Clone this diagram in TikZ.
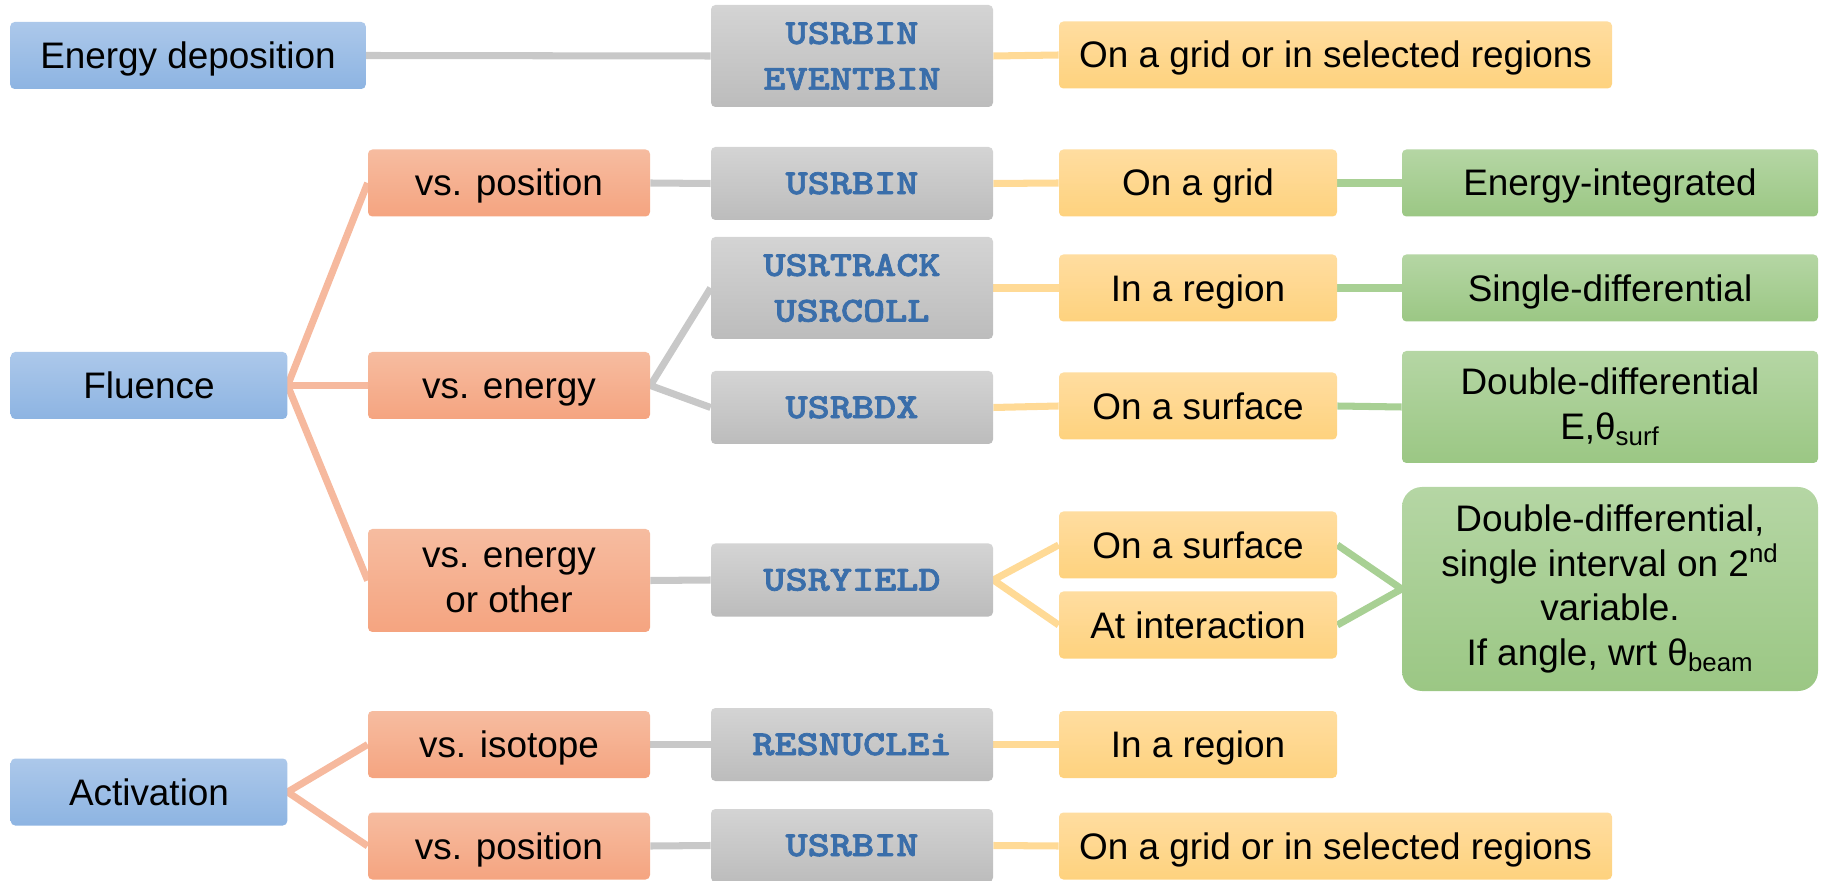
\documentclass[tikz,border=0pt]{standalone}
\usepackage{fontspec}
\setmainfont{Liberation Sans}
\newfontfamily\cardfont{lmmonolt10-bold.otf}[FakeStretch=1.2, FakeBold=2]
\usetikzlibrary{backgrounds}

\definecolor{catTop}{RGB}{172,200,234}
\definecolor{catBot}{RGB}{141,180,226}
\definecolor{vsTop}{RGB}{246,188,160}
\definecolor{vsBot}{RGB}{245,164,128}
\definecolor{cardTop}{RGB}{212,212,212}
\definecolor{cardBot}{RGB}{188,188,188}
\definecolor{cardText}{RGB}{58,110,170}
\definecolor{placeTop}{RGB}{255,221,160}
\definecolor{placeBot}{RGB}{254,210,126}
\definecolor{kindTop}{RGB}{181,214,164}
\definecolor{kindBot}{RGB}{155,199,132}
\definecolor{grayLink}{RGB}{200,200,200}
\definecolor{pinkLink}{RGB}{246,185,158}
\definecolor{yellowLink}{RGB}{255,218,150}
\definecolor{greenLink}{RGB}{168,208,148}

\begin{document}
\begin{tikzpicture}[
		basebox/.style={rounded corners=2.5pt, align=center, inner sep=0pt,
			minimum height=1.34cm, text height=19pt, text depth=4.2pt,
			font=\fontsize{21}{25.5}\selectfont},
		twolines/.style={text height={}, text depth={}},
		catbox/.style={basebox, top color=catTop, bottom color=catBot, minimum width=5.53cm},
		vsbox/.style={basebox, top color=vsTop, bottom color=vsBot, minimum width=5.64cm},
		cardbox/.style={basebox, top color=cardTop, bottom color=cardBot, minimum width=5.64cm,
			minimum height=1.46cm, text=cardText, text height=15.5pt, text depth=3.5pt,
			font=\fontsize{20}{26}\selectfont\cardfont},
		placebox/.style={basebox, top color=placeTop, bottom color=placeBot, minimum width=5.56cm},
		kindbox/.style={basebox, top color=kindTop, bottom color=kindBot, minimum width=8.32cm},
		graylink/.style={draw=grayLink, line width=4pt},
		pinklink/.style={draw=pinkLink, line width=4pt},
		yellowlink/.style={draw=yellowLink, line width=4pt},
		greenlink/.style={draw=greenLink, line width=4pt}]
		
		\useasboundingbox (0,0) rectangle (36.48,17.6);
		
		% Energy deposition
		\node[catbox, minimum width=7.11cm] (edep) at (3.76,16.49) {Energy deposition};
		\node[cardbox, twolines, minimum height=2.04cm] (evbin) at (17.04,16.48) {USRBIN\\EVENTBIN};
		\node[placebox, minimum width=11.06cm] (gridsel) at (26.71,16.5) {On a grid or in selected regions};
		
		% Fluence
		\node[catbox] (flu) at (2.98,9.89) {Fluence};
		\node[vsbox] (vspos) at (10.18,13.94) {vs. position};
		\node[vsbox] (vsen) at (10.18,9.89) {vs. energy};
		\node[vsbox, twolines, minimum height=2.06cm] (vsoth) at (10.18,5.99) {vs. energy\\or other};
		
		\node[cardbox] (usrbin) at (17.04,13.93) {USRBIN};
		\node[cardbox, twolines, minimum height=2.04cm] (track) at (17.04,11.84) {USRTRACK\\USRCOLL};
		\node[cardbox] (bdx) at (17.04,9.45) {USRBDX};
		\node[cardbox] (yield) at (17.04,6.0) {USRYIELD};
		
		\node[placebox] (grid) at (23.96,13.94) {On a grid};
		\node[placebox] (region) at (23.96,11.84) {In a region};
		\node[placebox] (surf) at (23.96,9.48) {On a surface};
		\node[placebox] (ysurf) at (23.96,6.7) {On a surface};
		\node[placebox] (inter) at (23.96,5.1) {At interaction};
		
		\node[kindbox] (eint) at (32.2,13.94) {Energy-integrated};
		\node[kindbox] (single) at (32.2,11.84) {Single-differential};
		\node[kindbox, twolines, minimum height=2.24cm] (ddiff) at (32.2,9.46)
			{Double-differential\\E,θ\textsubscript{surf}};
		\node[kindbox, twolines, minimum height=4.08cm, rounded corners=0.4cm] (ddint) at (32.2,5.82)
			{Double-differential,\\single interval on 2\textsuperscript{nd}\\variable.\\If angle, wrt θ\textsubscript{beam}};
		
		% Activation
		\node[catbox] (act) at (2.98,1.76) {Activation};
		\node[vsbox] (vsiso) at (10.18,2.71) {vs. isotope};
		\node[vsbox] (vspos2) at (10.18,0.68) {vs. position};
		\node[cardbox] (resnuc) at (17.04,2.71) {RESNUCLEi};
		\node[cardbox] (usrbin2) at (17.04,0.69) {USRBIN};
		\node[placebox] (region2) at (23.96,2.71) {In a region};
		\node[placebox, minimum width=11.06cm] (gridsel2) at (26.71,0.68) {On a grid or in selected regions};
		
		% Connectors, behind the boxes
		\begin{scope}[on background layer]
			\draw[graylink] (edep.east) -- (evbin.west);
			\draw[yellowlink] (evbin.east) -- (gridsel.west);
			
			\draw[pinklink] (vspos.west) -- (flu.east) -- (vsoth.west);
			\draw[pinklink] (flu.east) -- (vsen.west);
			\draw[graylink] (vspos.east) -- (usrbin.west);
			\draw[graylink] (track.west) -- (vsen.east) -- (bdx.west);
			\draw[graylink] (vsoth.east) -- (yield.west);
			\draw[yellowlink] (usrbin.east) -- (grid.west);
			\draw[yellowlink] (track.east) -- (region.west);
			\draw[yellowlink] (bdx.east) -- (surf.west);
			\draw[yellowlink] (ysurf.west) -- (yield.east) -- (inter.west);
			\draw[greenlink] (grid.east) -- (eint.west);
			\draw[greenlink] (region.east) -- (single.west);
			\draw[greenlink] (surf.east) -- (ddiff.west);
			\draw[greenlink] (ysurf.east) -- (ddint.west) -- (inter.east);
			
			\draw[pinklink] (vsiso.west) -- (act.east) -- (vspos2.west);
			\draw[graylink] (vsiso.east) -- (resnuc.west);
			\draw[graylink] (vspos2.east) -- (usrbin2.west);
			\draw[yellowlink] (resnuc.east) -- (region2.west);
			\draw[yellowlink] (usrbin2.east) -- (gridsel2.west);
		\end{scope}
		
	\end{tikzpicture}
\end{document}
